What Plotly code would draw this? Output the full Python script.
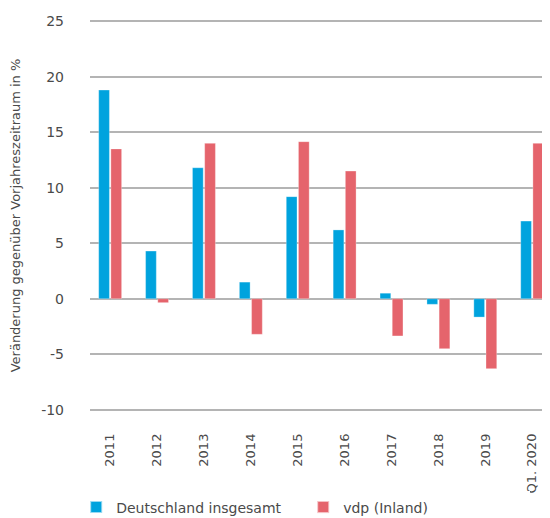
import plotly.graph_objects as go

categories = ["2011", "2012", "2013", "2014", "2015", "2016", "2017", "2018", "2019", "Q1. 2020"]
deutschland = [18.8, 4.3, 11.8, 1.5, 9.2, 6.2, 0.5, -0.5, -1.65, 7.0]
vdp = [13.5, -0.35, 14.0, -3.2, 14.15, 11.5, -3.35, -4.5, -6.3, 14.0]
y_ticks = [-10, -5, 0, 5, 10, 15, 20, 25]
y_tick_labels = ["-10", "-5", "0", "5", "10", "15", "20", "25"]

BLUE = "#00A3DE"
RED = "#E5646C"
FONT = "DejaVu Sans"
TXT = "#4a4a4a"

fig = go.Figure()
fig.add_trace(go.Bar(name="Deutschland insgesamt", x=categories, y=deutschland,
                     marker=dict(color=BLUE, line=dict(color="rgba(255,255,255,0.6)", width=0.5))))
fig.add_trace(go.Bar(name="vdp (Inland)", x=categories, y=vdp,
                     marker=dict(color=RED, line=dict(color="rgba(255,255,255,0.6)", width=0.5))))

fig.update_layout(
    width=542, height=510,
    paper_bgcolor="white", plot_bgcolor="white",
    font=dict(family=FONT, color=TXT, size=14),
    barmode="group", bargap=0.48, bargroupgap=0.12,
    margin=dict(l=82, r=0, t=10.6, b=106, autoexpand=False),
    showlegend=True,
    legend=dict(orientation="h", x=-0.03, xanchor="left", y=-0.243, yanchor="middle",
                font=dict(size=14, color=TXT), entrywidth=182, entrywidthmode="pixels",
                itemsizing="constant"),
)
fig.update_xaxes(
    range=[-0.43, 9.38], tickangle=-90, showgrid=False, showline=False, zeroline=False,
    ticks="", tickfont=dict(size=13, color=TXT), ticklabelstandoff=18, automargin=False,
)
fig.update_yaxes(
    range=[-10.2, 25.2], tickvals=y_ticks, ticktext=y_tick_labels, showgrid=True,
    gridcolor="#b4b4b4", gridwidth=1.5,
    zeroline=True, zerolinecolor="#b4b4b4", zerolinewidth=1.5, showline=False, ticks="",
    tickfont=dict(size=14, color=TXT), ticklabelstandoff=25, automargin=False,
    title=dict(text="Veränderung gegenüber Vorjahreszeitraum in %", font=dict(size=13, color=TXT), standoff=20),
)

fig.write_html("out.html")
